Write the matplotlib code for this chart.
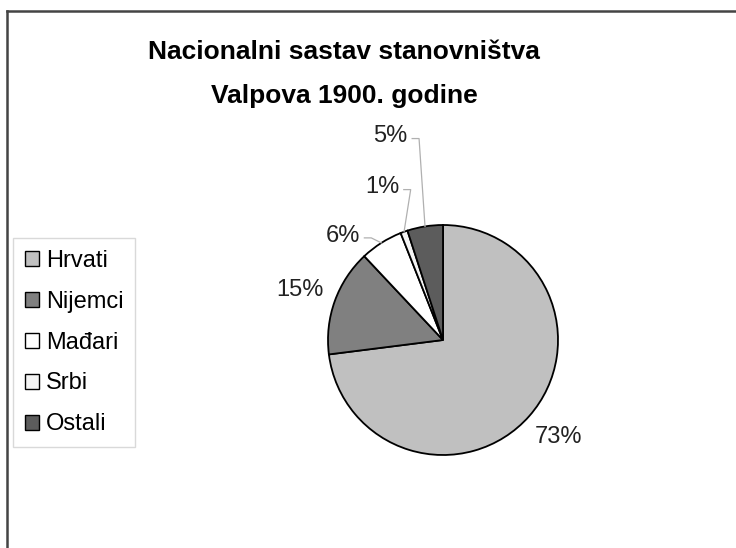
import matplotlib
matplotlib.use("Agg")
import matplotlib.pyplot as plt
from matplotlib.lines import Line2D
import numpy as np

plt.rcParams['font.family'] = ['Liberation Sans', 'DejaVu Sans']

categories = ["Hrvati", "Nijemci", "Mađari", "Srbi", "Ostali"]
values = [73, 15, 6, 1, 5]
pct_labels = ["73%", "15%", "6%", "1%", "5%"]
title = "Nacionalni sastav stanovništva\nValpova 1900. godine"

colors = ["#c0c0c0", "#808080", "#ffffff", "#f4f4f4", "#5c5c5c"]

W, H = 736, 548
CX, CY, R = 443, 340, 115  # pie centre and radius in pixels

fig = plt.figure(figsize=(W / 100, H / 100), dpi=100)
ax = fig.add_axes([0, 0, 1, 1])

wedges, _ = ax.pie(values, colors=colors, startangle=90, counterclock=False,
                   radius=1, center=(0, 0), frame=True,
                   wedgeprops=dict(edgecolor="black", linewidth=1.3))
ax.set_xlim(-CX / R, (W - CX) / R)
ax.set_ylim((CY - H) / R, CY / R)
ax.set_aspect("auto")
ax.axis("off")

# label placement: (radius factor, angle offset in degrees) per wedge
label_place = [(1.31, 1.5), (1.32, 0.5), (1.26, 11.5), (1.43, 2.0), (1.83, 5.5)]
leader = [False, False, True, True, True]
for w, lab, (rf, doff), ld in zip(wedges, pct_labels, label_place, leader):
    mid = np.deg2rad((w.theta1 + w.theta2) / 2)
    ang = mid + np.deg2rad(doff)
    lx, ly = rf * np.cos(ang), rf * np.sin(ang)
    ax.text(lx, ly, lab, ha="center", va="center", fontsize=17, color="#222222")
    if ld:
        ex, ey = np.cos(mid), np.sin(mid)
        x0 = lx + 0.19
        x1 = x0 + 0.06
        ax.plot([x0, x1, ex], [ly - 0.02, ly - 0.02, ey], color="#b0b0b0", lw=0.9)

# title
ax.text((344 - CX) / R, (CY - 74) / R, title, ha="center", va="center",
        fontsize=19, fontweight="bold", color="black", linespacing=2.05)

# legend
leg = ax.legend(wedges, categories, loc="upper left",
                bbox_to_anchor=(13 / W, 1 - 238 / H), bbox_transform=fig.transFigure,
                borderaxespad=0, fontsize=17, frameon=True, fancybox=False,
                edgecolor="#d0d0d0", handlelength=0.6, handleheight=0.6,
                handletextpad=0.3, labelspacing=0.80, borderpad=0.5)
leg.get_frame().set_linewidth(1.0)
for h in leg.legend_handles:
    h.set_linewidth(1.0)

# outer chart frame (left and top edges visible)
fig.add_artist(Line2D([7 / W, 7 / W], [0, 1 - 11 / H], transform=fig.transFigure,
                      color="#444444", lw=1.8))
fig.add_artist(Line2D([7 / W, 1], [1 - 11 / H, 1 - 11 / H], transform=fig.transFigure,
                      color="#444444", lw=1.8))

fig.savefig("out.png", dpi=100, facecolor="white")
